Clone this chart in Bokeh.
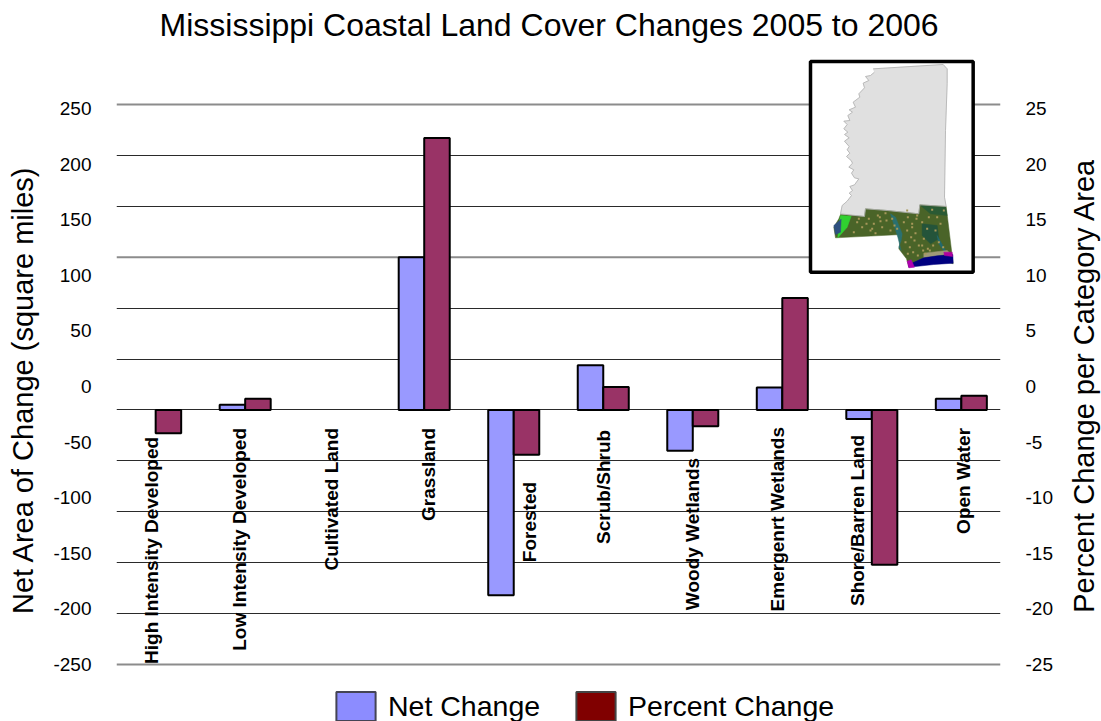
from math import pi
from bokeh.plotting import figure
from bokeh.embed import file_html
from bokeh.resources import INLINE
from bokeh.core.properties import value
from bokeh.models import (ColumnDataSource, Range1d, LinearAxis, FixedTicker, Grid, Span,
                          Legend, LegendItem, Label)
from bokeh.transform import dodge

nan = float("nan")
categories = ["High Intensity Developed", "Low Intensity Developed", "Cultivated Land", "Grassland", "Forested",
              "Scrub/Shrub", "Woody Wetlands", "Emergenrt Wetlands", "Shore/Barren Land", "Open Water"]
net_change = [nan, 5, nan, 150, -182, 44, -40, 22, -9, 11]
percent_change = [-2.3, 1.1, nan, 26.7, -4.4, 2.26, -1.6, 11, -15.2, 1.4]
left_ticks = [250, 200, 150, 100, 50, 0, -50, -100, -150, -200, -250]
right_ticks = [25, 20, 15, 10, 5, 0, -5, -10, -15, -20, -25]
grid_values = [250, 200, 100, 50, 0, -50, -100, -150, -200]

label_top = [-26.5, -17.7, -17.7, -17.7, -70.7, -19.6, -47, -16.7, -24.6, -17.7]
label_dx = [-4, -6, -3, 4, 16, 0, 0, -5, -14, 2]

FONT = "Liberation Sans"
p = figure(width=1101, height=721, output_backend="svg", toolbar_location=None, x_range=Range1d(-0.4375, 9.4375),
           y_range=Range1d(-305.98, 345.18), x_axis_location=None, y_axis_location=None,
           min_border_left=116, min_border_right=101, min_border_top=58, min_border_bottom=0,
           outline_line_color=None, background_fill_color="white", border_fill_color="white")
p.grid.visible = False

p.add_layout(Label(text="Mississippi Coastal Land Cover Changes 2005 to 2006", x=159, y=24, x_units="canvas", y_units="canvas",
                   text_align="left", text_baseline="middle", text_font=FONT, text_font_size="32px", text_color="black"), "above")

p.extra_y_ranges = {"pct": Range1d(-30.598, 34.518), "lab_l": Range1d(-301.26, 294.96), "lab_r": Range1d(-30.126, 29.496),
                    "map_y": Range1d(2013, 24)}
p.extra_x_ranges = {"map_x": Range1d(-2022, 630)}

p.add_layout(Grid(dimension=1, ticker=FixedTicker(ticks=grid_values), grid_line_color="#2a2a2a", grid_line_width=1.2))
for v in [300, 150, -250]:
    p.add_layout(Span(location=v, dimension="width", line_color="#8c8c8c", line_width=2, level="underlay"))

src = ColumnDataSource(dict(idx=list(range(len(categories))), cat=categories, net=net_change, pct=percent_change,
                            top=label_top, dx=label_dx))
p.vbar(x=dodge("idx", -0.1425), top="net", bottom=0, width=0.285, source=src,
       fill_color="#9999FF", line_color="black", line_width=2)
p.vbar(x=dodge("idx", 0.1425), top="pct", bottom=0, width=0.285, source=src, y_range_name="pct",
       fill_color="#993366", line_color="black", line_width=2)
p.text(x="idx", y="top", text="cat", x_offset="dx", source=src, angle=pi / 2, text_align="right",
       text_baseline="middle", text_font=value(FONT), text_font_size="19px", text_font_style="bold", text_color="black")

def style_axis(ax, ticks):
    ax.axis_line_color = None
    ax.major_tick_line_color = None
    ax.minor_tick_line_color = None
    ax.major_tick_out = 0
    ax.major_tick_in = 0
    ax.major_label_overrides = {t: str(t) for t in ticks}
    ax.major_label_text_font = FONT
    ax.major_label_text_font_size = "19px"
    ax.major_label_text_color = "black"
    ax.axis_label_text_font = FONT
    ax.axis_label_text_font_size = "29px"
    ax.axis_label_text_font_style = "normal"
    ax.axis_label_text_color = "black"

la = LinearAxis(y_range_name="lab_l", ticker=FixedTicker(ticks=left_ticks), axis_label="Net Area of Change (square miles)",
                major_label_standoff=25, axis_label_standoff=11)
ra = LinearAxis(y_range_name="lab_r", ticker=FixedTicker(ticks=right_ticks), major_label_standoff=25)
style_axis(la, left_ticks); style_axis(ra, right_ticks)
p.add_layout(la, "left"); p.add_layout(ra, "right")

p.add_layout(Label(text="Percent Change per Category Area", x=1083, y=385, x_units="canvas", y_units="canvas", angle=pi / 2,
                   text_align="center", text_baseline="middle", text_font=FONT, text_font_size="29px", text_color="black"), "right")

# inset map, in the inset's own units
box = ([60, 548, 548, 60], [33, 33, 665, 665])
state = [(248,55),(458,42),(470,55),(470,100),(465,240),(462,440),(467,468),(388,463),(385,490),(290,480),(225,475),(222,498),
         (150,490),(155,465),(170,452),(183,435),(176,428),(186,420),(178,408),(192,403),(205,385),(192,382),(183,368),(190,358),
         (175,350),(186,338),(182,330),(168,318),(178,308),(170,298),(176,288),(162,272),(176,262),(162,252),(172,245),(160,235),
         (170,222),(160,212),(178,210),(172,195),(186,185),(176,178),(195,170),(188,155),(208,140),(205,130),(222,112),(218,98),
         (235,90),(225,78),(240,75),(252,65)]
land = [(150,492),(222,498),(225,475),(290,480),(385,490),(388,463),(467,468),(488,640),(440,624),(395,630),(355,650),
        (348,625),(325,595),(333,552),(135,562),(130,530),(145,505)]
map_polys = [
    ([a for a, b in state], [b for a, b in state], "#E0E0E0"),
    ([a for a, b in land], [b for a, b in land], "#4A6428"),
    ([150,182,170,142,145], [495,497,530,562,520], "#30D030"),
    ([130,152,150,135], [525,506,545,552], "#2E5080"),
    ([395,440,445,420,395], [520,525,565,580,555], "#24543A"),
    ([390,465,470,420], [465,470,495,490], "#2A5A34"),
    ([300,315,335,332,325,332,322], [490,500,550,570,590,600,560], "#2A7070"),
    ([440,465,468,445], [555,600,612,580], "#226A70"),
    ([400,470,480,430,400], [608,600,610,618,622], "#A09A78"),
    ([355,400,440,487,488,430,375,355], [642,622,616,612,638,642,648,650], "#00007F"),
    ([350,362,372,355], [632,628,650,652], "#B000B0"),
    ([460,485,486,462], [605,605,618,615], "#B000A0"),
]
speckle_x = [235,250,262,275,288,300,312,240,255,270,285,305,320,340,352,365,378,350,362,375,345,358,372,385,398,412,
             428,445,458,352,368,382,400,415,350,365,380,395,410,425,440,395,405,418,435,450,460,200,215,190,205,228,245,268]
speckle_y = [505,520,495,530,510,540,525,540,548,512,488,505,535,515,500,520,505,540,560,548,575,590,570,585,600,595,
             585,575,590,610,605,615,565,500,480,530,495,515,535,478,500,585,610,600,540,520,480,515,530,545,505,520,535,500]
p.patch(box[0], box[1], fill_color="white", line_color="black", line_width=3.5, x_range_name="map_x", y_range_name="map_y")
p.patches([m[0] for m in map_polys], [m[1] for m in map_polys], fill_color=[m[2] for m in map_polys],
          line_color=[m[2] for m in map_polys], line_width=0.5, x_range_name="map_x", y_range_name="map_y")
p.line([a for a, b in state], [b for a, b in state], line_color="#AFAFAF", line_width=0.8, x_range_name="map_x", y_range_name="map_y")
p.scatter(speckle_x, speckle_y, marker="square", size=2, fill_color="#A8985A", line_color=None,
          x_range_name="map_x", y_range_name="map_y")

# legend
r1 = p.vbar(x=[nan], top=[nan], width=0.2, fill_color="#8C8CFF", line_color="#444455", line_width=2)
r2 = p.vbar(x=[nan], top=[nan], width=0.2, fill_color="#800000", line_color="#444444", line_width=2)
legend = Legend(items=[LegendItem(label="Net Change", renderers=[r1]), LegendItem(label="Percent Change", renderers=[r2])],
                orientation="horizontal", location=(215, -3), padding=0, margin=0, spacing=31,
                glyph_width=49, glyph_height=36, label_standoff=8, border_line_color=None, background_fill_alpha=0,
                label_text_font=FONT, label_text_font_size="28.5px", label_text_color="black", label_height=36)
p.add_layout(legend, "center")

open("out.html", "w").write(file_html(p, INLINE))
